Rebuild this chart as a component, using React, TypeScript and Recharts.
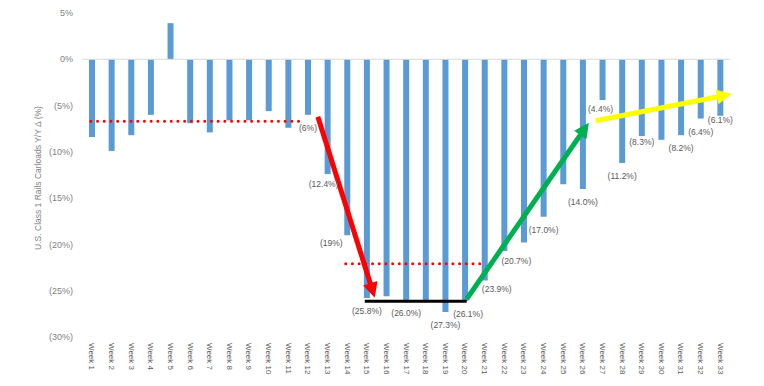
import { BarChart, Bar, XAxis, YAxis, ReferenceLine, LabelList } from 'recharts';

const weeks = [1, 2, 3, 4, 5, 6, 7, 8, 9, 10, 11, 12, 13, 14, 15, 16, 17, 18, 19, 20, 21, 22, 23, 24, 25, 26, 27, 28, 29, 30, 31, 32, 33];

// U.S. Class 1 rail carloads, year-over-year change (%)
const carloadChange = [
  -8.4, -9.9, -8.2, -6.0, 3.9, -6.9, -7.9, -6.6, -6.6, -5.6, -7.4, -6.0,
  -12.4, -19.0, -25.8, -25.6, -26.0, -26.1, -27.3, -26.1, -23.9, -20.7,
  -19.8, -17.0, -13.5, -14.0, -4.4, -11.2, -8.3, -8.7, -8.2, -6.4, -6.1,
];

const barLabels: (string | null)[] = [
  null, null, null, null, null, null, null, null, null, null, null, '(6%)',
  '(12.4%)', '(19%)', '(25.8%)', null, '(26.0%)', null, '(27.3%)', '(26.1%)', '(23.9%)', '(20.7%)',
  null, '(17.0%)', null, '(14.0%)', '(4.4%)', '(11.2%)', '(8.3%)', null, '(8.2%)', '(6.4%)', '(6.1%)',
];

const yTicks = [5, 0, -5, -10, -15, -20, -25, -30];

// hand-placed label tweaks, as in the original slide
const labelNudge: Record<number, [number, number]> = {
  13: [-4, -3],
  14: [-16, -5],
  20: [3, 0],
  21: [12, -5],
  22: [12, -3],
  27: [-2, -4],
  29: [0, -7],
  33: [0, -9],
};

// annotation guides, in (week, %) units
const dottedLevels = [
  { from: 0.95, to: 11.85, y: -6.7 },
  { from: 13.93, to: 20.76, y: -22.1 },
];
const floorLine = { from: 14.9, to: 20.09, y: -26.15 };
const trendArrows = [
  { from: [12.51, -6.2], to: [15.41, -25.75], color: '#FF0000' },
  { from: [20.09, -25.9], to: [26.31, -6.85], color: '#00B050' },
  { from: [26.66, -6.64], to: [33.59, -3.75], color: '#FFFF00' },
];

const data = weeks.map((week, i) => ({ week, value: carloadChange[i], label: barLabels[i] }));

const FONT = '"Liberation Sans", Arial, sans-serif';
const GREY = '#595959';

const fmtPct = (v: number) => (v < 0 ? `(${-v}%)` : `${v}%`);

function WeekTick(props: any) {
  const { x, y, payload } = props;
  return (
    <text
      transform={`translate(${x},${y - 2}) rotate(90)`}
      textAnchor="start"
      dominantBaseline="central"
      fontSize={8}
      fontFamily={FONT}
      fill={GREY}
    >
      {`Week ${payload.value}`}
    </text>
  );
}

function BarLabel(props: any) {
  const { x, y, width, height, value, index } = props;
  if (!value) return null;
  const week = weeks[index];
  const [dx, dy] = labelNudge[week] || [0, 0];
  const bottom = Math.max(y, y + height);
  return (
    <text
      x={x + width / 2 + dx}
      y={bottom + 13 + dy}
      textAnchor="middle"
      dominantBaseline="central"
      fontSize={8.5}
      fontFamily={FONT}
      fill={GREY}
    >
      {value}
    </text>
  );
}

const arrowShape = (color: string) => (p: any) => {
  const { x1, y1, x2, y2 } = p;
  const dx = x2 - x1;
  const dy = y2 - y1;
  const len = Math.sqrt(dx * dx + dy * dy);
  const ux = dx / len;
  const uy = dy / len;
  const head = 15;
  const half = 7.5;
  const bx = x2 - ux * head;
  const by = y2 - uy * head;
  const pts = [
    [x2, y2],
    [bx - uy * half, by + ux * half],
    [bx + uy * half, by - ux * half],
  ].map((q) => q.join(',')).join(' ');
  return (
    <g>
      <line x1={x1} y1={y1} x2={bx + ux * 1} y2={by + uy * 1} stroke={color} strokeWidth={5} />
      <polygon points={pts} fill={color} />
    </g>
  );
};

export default function App() {
  return (
    <div style={{ position: 'absolute', left: 0, top: 0, width: 764, height: 386, background: '#fff' }}>
      <BarChart width={764} height={386} data={data} margin={{ top: 13, right: 34, bottom: 0, left: 0 }}>
        <XAxis
          dataKey="week"
          type="number"
          domain={[0.5, 33.5]}
          ticks={weeks}
          interval={0}
          axisLine={false}
          tickLine={false}
          height={49}
          tick={<WeekTick />}
        />
        <YAxis
          type="number"
          domain={[-30, 5]}
          ticks={yTicks}
          interval={0}
          axisLine={false}
          tickLine={false}
          width={82}
          tickMargin={3}
          tickFormatter={fmtPct}
          tick={{ fill: '#7f7f7f', fontSize: 9, fontFamily: FONT }}
          label={{
            content: (lp: any) => {
              const vb = lp.viewBox || { x: 0, y: 13, width: 82, height: 324 };
              const cx = vb.x + 38;
              const cy = vb.y + vb.height / 2 + 3;
              return (
                <text
                  x={cx}
                  y={cy}
                  transform={`rotate(-90 ${cx} ${cy})`}
                  textAnchor="middle"
                  dominantBaseline="central"
                  fontSize={8.5}
                  fontFamily={FONT}
                  fill="#7f7f7f"
                >
                  U.S. Class 1 Rails Carloads Y/Y Δ (%)
                </text>
              );
            },
          }}
        />
        <ReferenceLine y={0} stroke="#d9d9d9" strokeWidth={1} />
        <Bar dataKey="value" fill="#5B9BD5" barSize={6} isAnimationActive={false}>
          <LabelList dataKey="label" content={<BarLabel />} />
        </Bar>
        {dottedLevels.map((d, i) => (
          <ReferenceLine
            key={`dot-${i}`}
            segment={[{ x: d.from, y: d.y }, { x: d.to, y: d.y }]}
            stroke="#FF0000"
            strokeWidth={3}
            strokeDasharray="0 6.7"
            strokeLinecap="round"
            ifOverflow="visible"
          />
        ))}
        <ReferenceLine
          segment={[{ x: floorLine.from, y: floorLine.y }, { x: floorLine.to, y: floorLine.y }]}
          stroke="#000000"
          strokeWidth={3}
          ifOverflow="visible"
        />
        {trendArrows.map((a, i) => (
          <ReferenceLine
            key={`arrow-${i}`}
            segment={[{ x: a.from[0], y: a.from[1] }, { x: a.to[0], y: a.to[1] }]}
            stroke={a.color}
            ifOverflow="visible"
            shape={arrowShape(a.color)}
          />
        ))}
      </BarChart>
    </div>
  );
}
